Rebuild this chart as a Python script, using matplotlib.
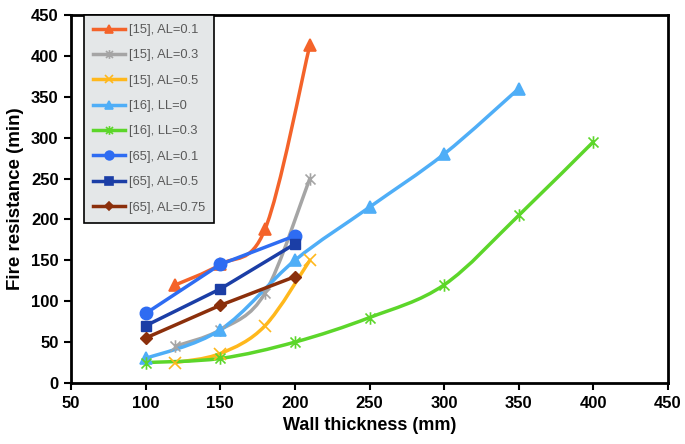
import numpy as np
import matplotlib
matplotlib.use("Agg")
import matplotlib.pyplot as plt
from matplotlib.path import Path
from matplotlib.patches import PathPatch
from matplotlib.lines import Line2D

# ---- data ----
x_15 = [120, 150, 180, 210]
y_15_al01 = [120, 145, 188, 413]
y_15_al03 = [45, 65, 110, 250]
y_15_al05 = [25, 36, 70, 150]

x_16_ll0 = [100, 150, 200, 250, 300, 350]
y_16_ll0 = [30, 65, 150, 215, 280, 360]

x_16_ll03 = [100, 150, 200, 250, 300, 350, 400]
y_16_ll03 = [25, 30, 50, 80, 120, 205, 295]

x_65 = [100, 150, 200]
y_65_al01 = [85, 145, 180]
y_65_al05 = [70, 115, 170]
y_65_al075 = [55, 95, 130]

labels = ["[15], AL=0.1", "[15], AL=0.3", "[15], AL=0.5", "[16], LL=0",
          "[16], LL=0.3", "[65], AL=0.1", "[65], AL=0.5", "[65], AL=0.75"]

xticks = [50, 100, 150, 200, 250, 300, 350, 400, 450]
yticks = [0, 50, 100, 150, 200, 250, 300, 350, 400, 450]

fig = plt.figure(figsize=(6.85, 4.44), dpi=100)
ax = fig.add_axes([71/685, 1-383/444, (668-71)/685, (383-15)/444])

# Excel-style star marker: x plus vertical bar
STAR = Path([(-1, -1), (1, 1), (-1, 1), (1, -1), (0, -1.25), (0, 1.25)],
            [Path.MOVETO, Path.LINETO, Path.MOVETO, Path.LINETO,
             Path.MOVETO, Path.LINETO])


def smooth_path(xs, ys):
    pts = np.column_stack([xs, ys]).astype(float)
    verts = [pts[0]]
    codes = [Path.MOVETO]
    n = len(pts)
    for i in range(n - 1):
        p0 = pts[i - 1] if i > 0 else pts[i]
        p1 = pts[i]
        p2 = pts[i + 1]
        p3 = pts[i + 2] if i + 2 < n else pts[i + 1]
        c1 = p1 + (p2 - p0) / 6.0
        c2 = p2 - (p3 - p1) / 6.0
        verts += [c1, c2, p2]
        codes += [Path.CURVE4] * 3
    return Path(verts, codes)


series = [
    (x_15, y_15_al01, "#F4632A", "^", 8, True),
    (x_15, y_15_al03, "#A5A5A5", STAR, 9, True),
    (x_15, y_15_al05, "#FFB81C", "x", 8, True),
    (x_16_ll0, y_16_ll0, "#4FAEF7", "^", 9, True),
    (x_16_ll03, y_16_ll03, "#5CD62A", STAR, 9, True),
    (x_65, y_65_al01, "#2E6CF2", "o", 9, False),
    (x_65, y_65_al05, "#1B3EA6", "s", 7.5, False),
    (x_65, y_65_al075, "#8B2F0B", "D", 6.5, False),
]

handles = []
for (xs, ys, col, mk, ms, smooth), lab in zip(series, labels):
    if smooth:
        patch = PathPatch(smooth_path(xs, ys), facecolor="none", edgecolor=col,
                          lw=2.5, zorder=2, capstyle="round", joinstyle="round")
        ax.add_patch(patch)
        ax.plot(xs, ys, linestyle="none", marker=mk, ms=ms, color=col,
                mec=col, mew=1.2, zorder=3)
    else:
        ax.plot(xs, ys, marker=mk, ms=ms, color=col, mec=col, lw=2.5, zorder=3)
    handles.append(Line2D([], [], color=col, lw=2.5, marker=mk, ms=ms * 0.7,
                          mec=col, mew=1.2, label=lab))

ax.set_xlim(50, 450)
ax.set_ylim(0, 450)
ax.set_xticks(xticks)
ax.set_yticks(yticks)
for sp in ax.spines.values():
    sp.set_linewidth(2)
    sp.set_color("black")
ax.tick_params(direction="out", length=5, width=1.5, labelsize=12, pad=4)
for lab in ax.get_xticklabels() + ax.get_yticklabels():
    lab.set_fontfamily("Liberation Sans")
    lab.set_fontweight("bold")

ax.set_xlabel("Wall thickness (mm)", fontsize=13, fontweight="bold",
              family="Liberation Sans", labelpad=5)
ax.set_ylabel("Fire resistance (min)", fontsize=13.5, fontweight="bold",
              family="Liberation Sans", labelpad=5)

leg = ax.legend(handles=handles, loc="upper left",
                bbox_to_anchor=((84-71)/597, 1.0), frameon=True,
                fancybox=False, edgecolor="black", facecolor="#E4E7E8",
                framealpha=1, prop={"family": "Liberation Sans", "size": 9.3},
                labelspacing=1.03, handlelength=2.5, handletextpad=0.25,
                borderpad=0.7, borderaxespad=0)
leg.get_frame().set_linewidth(1.2)
for t in leg.get_texts():
    t.set_color("#595959")

fig.savefig("out.png", dpi=100)
